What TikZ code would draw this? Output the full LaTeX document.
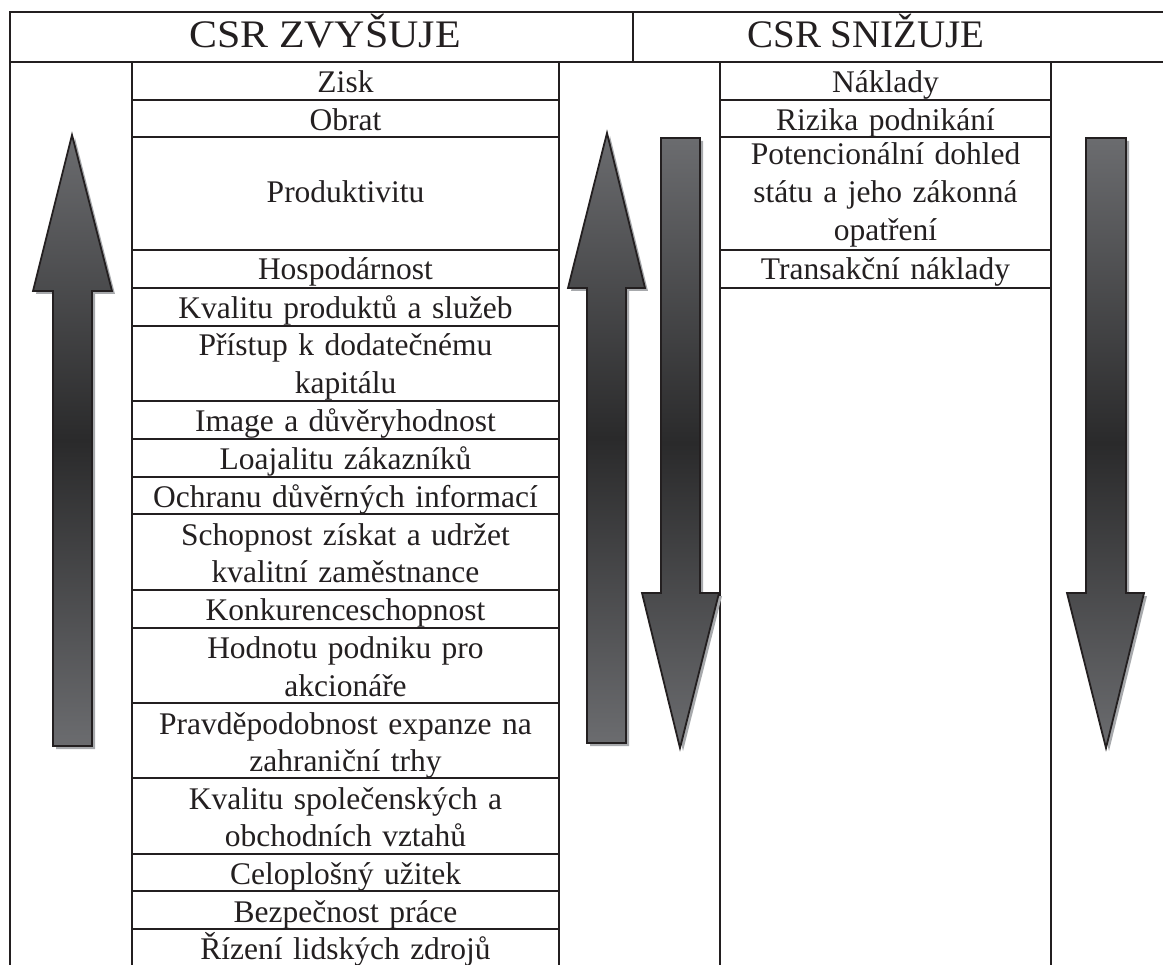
\documentclass[tikz,border=0pt]{standalone}
\usepackage{fontspec}
\setmainfont{Liberation Serif}
\newfontfamily\headwide[FakeStretch=1.075]{Liberation Serif}
\definecolor{ink}{HTML}{231F20}
\definecolor{arrlight}{HTML}{6B6C6F}
\definecolor{arrdark}{HTML}{2A2A2B}
\definecolor{shadowc}{HTML}{A7A9AC}
\newcommand{\itemfont}{\fontsize{31.5}{37.7}\selectfont}
\newcommand{\headfont}{\fontsize{39}{44}\selectfont}
\tikzset{
  grid/.style={draw=ink, line width=2pt},
  itemtext/.style={font=\itemfont, text=ink, anchor=base, text width=410pt, align=center, inner sep=0pt},
  headtext/.style={font=\headfont, text=ink, anchor=base, inner sep=0pt},
  bigarrow/.style={draw=ink, line width=1.8pt, line join=miter, top color=arrlight, bottom color=arrlight, middle color=arrdark},
  arrshadow/.style={fill=shadowc, xshift=3pt, yshift=-3pt}
}
\begin{document}
\begin{tikzpicture}[x=1pt, y=-1pt]
\useasboundingbox (0,0) rectangle (1163,965);
% header frame
\draw[grid] (1163,12) -- (10,12) -- (10,965);
\draw[grid] (10,62) -- (1163,62);
\draw[grid] (633,12) -- (633,62);
% column lines
\foreach \x in {132,559,720,1051} \draw[grid] (\x,62) -- (\x,965);
% left item separators
\foreach \y in {99.7,137.4,250.5,288.2,325.9,401.3,439,476.7,514.4,589.8,627.5,702.9,778.3,853.7,891.4,929.1}
  \draw[grid] (132,\y) -- (559,\y);
% right item separators
\foreach \y in {99.7,137.4,250.5,288.2}
  \draw[grid] (720,\y) -- (1051,\y);
% headers
\node[headtext, font={\headfont\headwide}] (h1) at (325,48) {CSR ZVYŠUJE};
\node[headtext] (h2) at (866,48) {CSR SNIŽUJE};
% left items
\node[itemtext] (t1) at (345.5,92.9) {Zisk};
\node[itemtext] (t2) at (345.5,130.6) {Obrat};
\node[itemtext] (t3) at (345.5,203) {Produktivitu};
\node[itemtext] (t4) at (345.5,280) {Hospodárnost};
\node[itemtext] (t5) at (345.5,319) {Kvalitu produktů a služeb};
\node[itemtext] (t6) at (345.5,356) {Přístup k dodatečnému\\kapitálu};
\node[itemtext] (t7) at (345.5,432) {Image a důvěryhodnost};
\node[itemtext] (t8) at (345.5,470) {Loajalitu zákazníků};
\node[itemtext] (t9) at (345.5,507.5) {Ochranu důvěrných informací};
\node[itemtext] (t10) at (345.5,545.2) {Schopnost získat a udržet\\kvalitní zaměstnance};
\node[itemtext] (t11) at (345.5,620.6) {Konkurenceschopnost};
\node[itemtext] (t12) at (345.5,658.4) {Hodnotu podniku pro\\akcionáře};
\node[itemtext] (t13) at (345.5,734) {Pravděpodobnost expanze na\\zahraniční trhy};
\node[itemtext] (t14) at (345.5,809.2) {Kvalitu společenských a\\obchodních vztahů};
\node[itemtext] (t15) at (345.5,884.5) {Celoplošný užitek};
\node[itemtext] (t16) at (345.5,922.2) {Bezpečnost práce};
\node[itemtext] (t17) at (345.5,959) {Řízení lidských zdrojů};
% right items
\node[itemtext] (r1) at (885.5,92.9) {Náklady};
\node[itemtext] (r2) at (885.5,130.6) {Rizika podnikání};
\node[itemtext] (r3) at (885.5,165) {Potencionální dohled\\státu a jeho zákonná\\opatření};
\node[itemtext] (r4) at (885.5,280) {Transakční náklady};
% arrows: shadows
\path[arrshadow] (72,135) -- (112,291) -- (92,291) -- (92,746) -- (53,746) -- (53,291) -- (33,291) -- cycle;
\path[arrshadow] (607,133) -- (645,288) -- (626,288) -- (626,743) -- (587,743) -- (587,288) -- (568,288) -- cycle;
\path[arrshadow] (661,138) -- (700,138) -- (700,593) -- (719,593) -- (680,748) -- (642,593) -- (661,593) -- cycle;
\path[arrshadow] (1086,138) -- (1126,138) -- (1126,593) -- (1144,593) -- (1106,748) -- (1067,593) -- (1086,593) -- cycle;
% arrows
\path[bigarrow] (72,135) -- (112,291) -- (92,291) -- (92,746) -- (53,746) -- (53,291) -- (33,291) -- cycle;
\path[bigarrow] (607,133) -- (645,288) -- (626,288) -- (626,743) -- (587,743) -- (587,288) -- (568,288) -- cycle;
\path[bigarrow] (661,138) -- (700,138) -- (700,593) -- (719,593) -- (680,748) -- (642,593) -- (661,593) -- cycle;
\path[bigarrow] (1086,138) -- (1126,138) -- (1126,593) -- (1144,593) -- (1106,748) -- (1067,593) -- (1086,593) -- cycle;
\end{tikzpicture}
\end{document}
